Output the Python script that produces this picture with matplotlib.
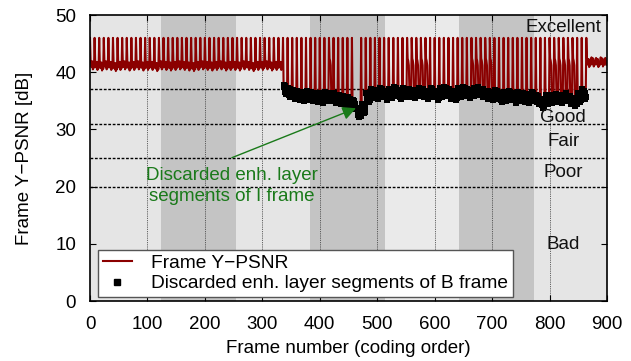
import numpy as np
import matplotlib.pyplot as plt
from matplotlib.lines import Line2D

plt.rcParams['font.family'] = ['Liberation Sans', 'DejaVu Sans']
plt.rcParams['font.size'] = 13.5

# frame grid: GOP of 8 frames (key frame first, then 7 B frames in coding order)
gop_size = 8
n_frames = 900

# per GOP mode
# N = all enh. layers kept, D = B enh. layers discarded, P = only part of the B frames discarded,
# I = I frame enh. layer discarded too, E = end of sequence (no key frame peak)
gop_mode = ('N' * 42 + 'D' * 10 + 'P' + 'D' * 5 + 'I' + 'D' * 10 + 'P' * 5 + 'D' * 9
            + 'P' * 5 + 'D' * 12 + 'P' * 6 + 'DD' + 'N' + 'E' * 4)

# B frame PSNR level per GOP (dB)
gop_level = [
    41.3, 41.2, 41.1, 41.3, 41.2, 41.0, 41.2, 41.3, 41.1, 41.2,
    41.3, 41.1, 41.2, 41.2, 41.0, 41.3, 41.2, 41.1, 41.2, 41.3,
    41.2, 41.1, 41.0, 41.2, 41.3, 41.2, 41.1, 41.2, 41.3, 41.1,
    41.2, 41.2, 41.1, 41.3, 41.2, 41.0, 41.2, 41.2, 41.3, 41.1,
    41.2, 41.2,
    37.0, 36.5, 36.1, 35.9, 35.8, 36.0, 35.7, 35.6, 35.5, 35.7,
    35.8, 35.5, 35.2, 35.1, 34.8, 34.3, 32.9, 33.6, 35.6, 36.3,
    36.1, 36.5, 36.0, 36.3, 36.6, 36.1, 36.4, 36.5, 36.3, 36.6,
    36.4, 36.2, 36.5, 36.0, 36.4, 36.7, 36.2, 36.0, 36.4, 36.6,
    36.3, 36.6, 36.8, 36.4, 36.1, 35.9, 36.1, 35.6, 35.8, 35.9,
    35.5, 35.8, 35.6, 35.4, 35.7, 35.2, 34.6, 35.3, 35.5, 35.6,
    35.4, 35.7, 35.2, 34.9, 35.6, 36.2,
    41.7, 41.8, 41.7, 41.8, 41.7,
]
key_psnr = 46.0          # key frame peaks
key_psnr_lost = 33.4     # I frame whose enh. layer was discarded
end_key_psnr = 42.0
kept_b_level = 41.6      # B frames that keep the enh. layer in partly discarded GOPs
b_offset = [0.8, 0.4, -0.4, 0.6, -0.8, 0.1, -0.5]

frames = np.arange(n_frames)
psnr = np.zeros(n_frames)
dropped = np.zeros(n_frames, dtype=bool)
for g, mode in enumerate(gop_mode):
    start = g * gop_size
    if start >= n_frames:
        break
    if mode == 'I':
        psnr[start] = key_psnr_lost
    elif mode == 'E':
        psnr[start] = end_key_psnr
    else:
        psnr[start] = key_psnr
    for k in range(1, gop_size):
        f = start + k
        if f >= n_frames:
            break
        if mode == 'P' and k <= 3:
            psnr[f] = kept_b_level + b_offset[k - 1]
        else:
            psnr[f] = gop_level[g] + b_offset[k - 1]
            if mode in 'DIP':
                dropped[f] = True

# background shading of frame ranges
band_edges = [0, 124, 254, 383, 514, 643, 773, 900]
band_colors = ['#e5e5e5', '#c4c4c4', '#e5e5e5', '#c4c4c4', '#eaeaea', '#c4c4c4', '#e5e5e5']

# quality classes
class_limits = [37, 31, 25, 20]
class_names = ['Excellent', 'Good', 'Fair', 'Poor', 'Bad']
class_y = [47.8, 32.1, 27.9, 22.4, 9.8]

fig = plt.figure(figsize=(6.31, 3.61), dpi=100)
ax = fig.add_axes([90 / 631, 1 - 301 / 361, 517 / 631, 286 / 361])

for i in range(len(band_colors)):
    ax.axvspan(band_edges[i], band_edges[i + 1], color=band_colors[i], lw=0, zorder=0)

for xv in range(100, 900, 100):
    ax.axvline(xv, color='#333333', ls=(0, (1, 1.2)), lw=0.6, zorder=1)
for yv in class_limits:
    ax.axhline(yv, color='black', ls=(0, (2, 1.2)), lw=1.0, zorder=1)

ax.plot(frames, psnr, color='#8b0000', lw=1.5, zorder=2)
ax.plot(frames[dropped], psnr[dropped], 's', color='black', ms=4.0, mew=0, zorder=3)

for name, yv in zip(class_names, class_y):
    ax.text(824, yv, name, ha='center', va='center', color='#111111', zorder=4)

ax.text(247, 20.1, 'Discarded enh. layer\nsegments of I frame', ha='center', va='center',
        color='#1a7a1a', linespacing=1.37, zorder=4)
ax.annotate('', xy=(463, 33.7), xytext=(247, 25.05),
            arrowprops=dict(arrowstyle='-|>', color='#1a7a1a', lw=1.0, mutation_scale=20,
                            shrinkA=0, shrinkB=0), zorder=4)

ax.set_xlim(0, 900)
ax.set_ylim(0, 50)
ax.set_xticks(range(0, 901, 100))
ax.set_yticks(range(0, 51, 10))
ax.tick_params(direction='in', top=True, right=True, length=4, width=0.8)
ax.tick_params(axis='x', pad=11)
ax.tick_params(axis='y', pad=10)
for sp in ax.spines.values():
    sp.set_linewidth(1.2)
ax.set_xlabel('Frame number (coding order)', labelpad=5)
ax.set_ylabel('Frame Y\u2212PSNR [dB]', labelpad=16)

handles = [Line2D([], [], color='#8b0000', lw=1.5),
           Line2D([], [], ls='none', marker='s', color='black', ms=4)]
leg = ax.legend(handles, ['Frame Y\u2212PSNR', 'Discarded enh. layer segments of B frame'],
                loc='lower left', bbox_to_anchor=(8 / 517, 4 / 286), borderaxespad=0,
                fancybox=False, framealpha=1, edgecolor='#555555', borderpad=0.25,
                labelspacing=0.15, handlelength=1.5, handletextpad=1.0, fontsize=13.8)
leg.get_frame().set_linewidth(1.0)
leg.set_zorder(5)

fig.savefig('out.png', dpi=100)
